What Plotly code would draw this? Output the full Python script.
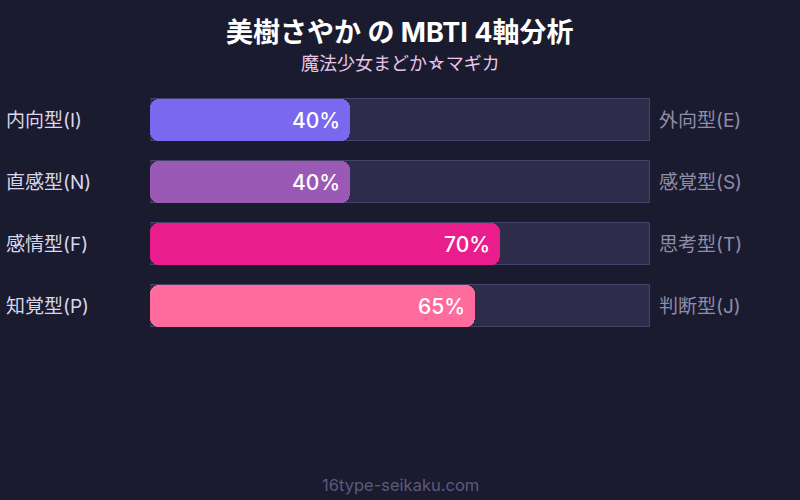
import plotly.graph_objects as go

left_labels = ["内向型(I)", "直感型(N)", "感情型(F)", "知覚型(P)"]
right_labels = ["外向型(E)", "感覚型(S)", "思考型(T)", "判断型(J)"]
values = [40, 40, 70, 65]
colors = ["#7B68EE", "#9B59B6", "#E91E8C", "#FF6B9D"]
full = [100, 100, 100, 100]

title = "美樹さやか の MBTI 4軸分析"
subtitle = "魔法少女まどか☆マギカ"
footer = "16type-seikaku.com"

FONT = "Inter, 'Noto Sans CJK JP', sans-serif"
BG = "#1b1b2f"

ys = list(range(len(values)))
fig = go.Figure()

# background track
fig.add_trace(go.Bar(
    y=ys, x=full, orientation="h", width=0.68,
    marker=dict(color="#2e2c4b", line=dict(color="#45436a", width=1)),
    hoverinfo="skip", showlegend=False,
))
# value bar (explicit base -> rounded at both ends)
fig.add_trace(go.Bar(
    y=ys, x=values, base=[0] * len(values),
    orientation="h", width=0.68,
    marker=dict(color=colors, line=dict(width=0), cornerradius=9),
    hoverinfo="skip", showlegend=False,
))

for i in ys:
    fig.add_annotation(x=values[i], xref="x", y=i, yref="y", text=f"{values[i]}%",
                       xanchor="right", yanchor="middle", xshift=-8, showarrow=False,
                       font=dict(color="white", size=21, family=FONT, weight=500))
    fig.add_annotation(x=-0.292, xref="paper", y=i, yref="y", text=left_labels[i],
                       xanchor="left", yanchor="middle", showarrow=False,
                       font=dict(color="#d8d6ea", size=19, family=FONT))
    fig.add_annotation(x=1.014, xref="paper", y=i, yref="y", text=right_labels[i],
                       xanchor="left", yanchor="middle", showarrow=False,
                       font=dict(color="#8f8da8", size=19, family=FONT))

fig.add_annotation(x=0.5, xref="paper", y=1 + (89 - 33) / 248, yref="paper",
                   text=f"<b>{title}</b>", showarrow=False, xanchor="center", yanchor="middle",
                   font=dict(color="white", size=27, family=FONT))
fig.add_annotation(x=0.5, xref="paper", y=1 + (89 - 64) / 248, yref="paper",
                   text=subtitle, showarrow=False, xanchor="center", yanchor="middle",
                   font=dict(color="#e8c6e8", size=18, family=FONT))
fig.add_annotation(x=0.5, xref="paper", y=1 - (485 - 89) / 248, yref="paper",
                   text=footer, showarrow=False, xanchor="center", yanchor="middle",
                   font=dict(color="#5c5a7c", size=16.5, family=FONT))

fig.update_layout(
    width=800, height=500, paper_bgcolor=BG, plot_bgcolor=BG,
    margin=dict(l=150, r=150, t=89, b=163),
    barmode="overlay", bargap=0,
    xaxis=dict(range=[0, 100], visible=False, fixedrange=True),
    yaxis=dict(range=[3.5, -0.5], visible=False, fixedrange=True),
    font=dict(family=FONT),
)

fig.write_html("out.html", config={"displayModeBar": False},
               post_script="document.body.style.margin='0';")
